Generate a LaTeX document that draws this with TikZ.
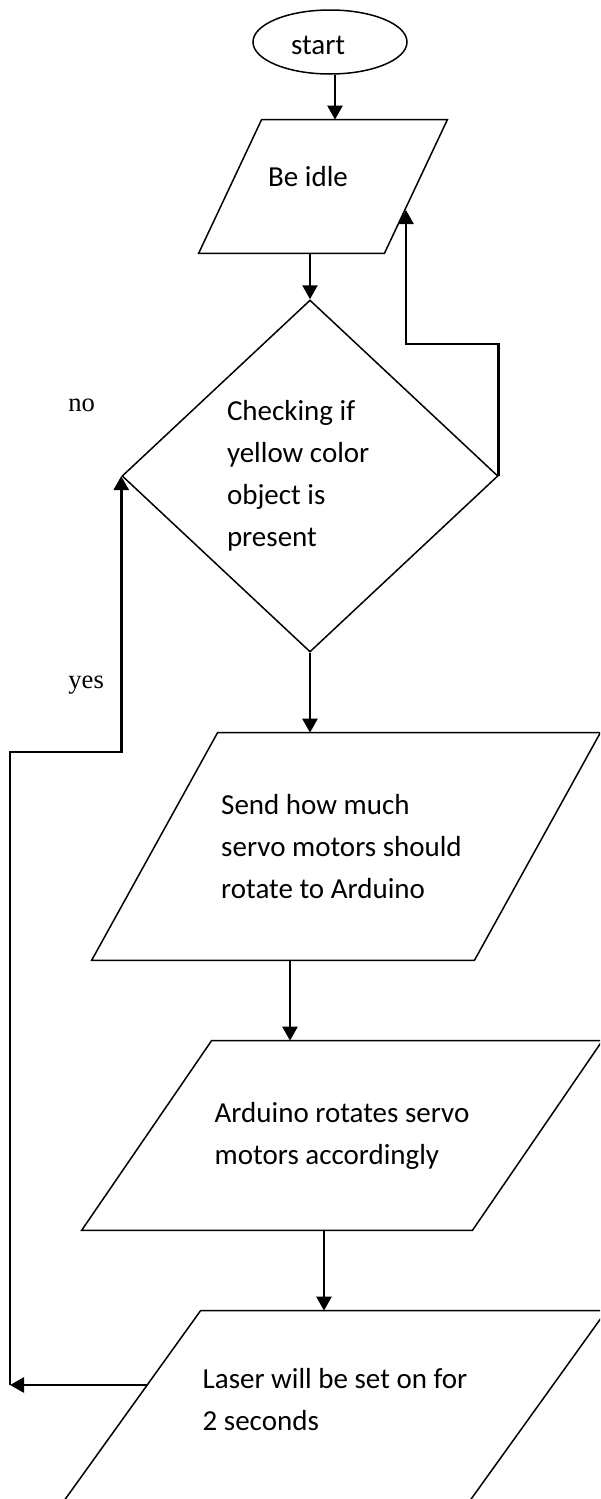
\documentclass[tikz,border=0pt]{standalone}
\usepackage{fontspec}
\setmainfont{Carlito}
\newfontfamily\labelfont{Liberation Serif}
\usetikzlibrary{shapes.geometric,arrows.meta,calc}

\begin{document}
\begin{tikzpicture}[x=0.5pt,y=-0.5pt,
    >={Triangle[length=7pt,width=7.5pt]},
    every node/.style={font=\fontsize{14.5}{21}\selectfont, align=flush left},
    box/.style={rectangle, inner sep=0pt},
    rand/.style={line width=0.75pt},
    pfeil/.style={->, line width=1.3pt},
    lbl/.style={font=\labelfont\fontsize{13.3}{16}\selectfont, inner sep=0pt, anchor=base west}]
    \useasboundingbox (0,0) rectangle (600,1499);
    \fill[white] (0,0) rectangle (600,1499);
    \clip (0,0) rectangle (600,1499);
    % Start:
    \node[ellipse, draw, rand, minimum width=77pt, minimum height=32pt, text width=39pt, text height=13pt, inner sep=0pt] (start) at (330,42) {start};
    % Kaesten:
    \node[box, minimum width=92.5pt, minimum height=66.5pt, text height=10pt, text depth=10.5pt] (idle) at (308,186.5) {Be idle};
    \draw[rand] ($(idle.north west)+(46.5,0)$) -- ($(idle.north east)+(46.5,0)$) -- ($(idle.south east)+(-16.5,0)$) -- ($(idle.south west)+(-16.5,0)$) -- cycle;
    \node[diamond, draw, rand, minimum width=188pt, minimum height=176pt, text width=83pt, inner sep=0pt] (dec) at (310,476) {Checking if\\yellow color\\object is\\present};
    \node[box, minimum width=191pt, minimum height=113.5pt] (send) at (341.5,846.5) {Send how much\\servo motors should\\rotate to Arduino};
    \draw[rand] ($(send.north west)+(67.5,0)$) -- ($(send.north east)+(67.5,0)$) -- ($(send.south east)+(-58.5,0)$) -- ($(send.south west)+(-58.5,0)$) -- cycle;
    \node[box, minimum width=195pt, minimum height=94.5pt] (ard) at (342,1135.5) {Arduino rotates servo\\motors accordingly};
    \draw[rand] ($(ard.north west)+(65,0)$) -- ($(ard.north east)+(65,0)$) -- ($(ard.south east)+(-65,0)$) -- ($(ard.south west)+(-65,0)$) -- cycle;
    \node[box, minimum width=202.5pt, minimum height=114.5pt, text height=31pt, text depth=26.5pt] (laser) at (335,1425.5) {Laser will be set on for\\2 seconds};
    \draw[rand] ($(laser.north west)+(68.5,0)$) -- ($(laser.north east)+(68.5,0)$) -- ($(laser.south east)+(-96.5,0)$) -- ($(laser.south west)+(-96.5,0)$) -- cycle;
    % Beschriftung:
    \node[lbl] (no) at (68,411) {no};
    \node[lbl] (yes) at (68,688) {yes};
    % Pfeile:
    \draw[pfeil] ([xshift=2.5pt]start.south) -- ([xshift=2.5pt]start.south |- idle.north);
    \draw[pfeil] (idle.south -| dec.north) -- (dec.north);
    \coordinate (back) at (406,210); % Ruecksprung
    \draw[pfeil] (dec.east) -- ++(0,-132) -| (back);
    \draw[pfeil] (dec.south) -- (dec.south |- send.north);
    \draw[pfeil] ([xshift=-25.75pt]send.south) -- ([xshift=-25.75pt]send.south |- ard.north);
    \draw[pfeil] ([xshift=-9pt]ard.south) -- ([xshift=-9pt]ard.south |- laser.north);
    \coordinate (yesC) at (10,1385); % Ecke links
    \draw[pfeil] ([xshift=7.75pt]laser.west |- yesC) -- (yesC);
    \draw[pfeil] (yesC) -- ++(0,-633) -| (dec.west);
\end{tikzpicture}
\end{document}
